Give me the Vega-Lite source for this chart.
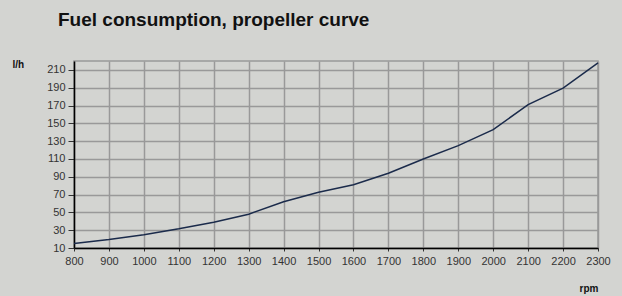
{
  "$schema": "https://vega.github.io/schema/vega-lite/v6.json",
  "autosize": "none",
  "width": 524,
  "height": 187,
  "padding": {"left": 74, "top": 61, "right": 24, "bottom": 48},
  "background": "#d3d4d1",
  "config": {
    "view": {"stroke": "#999999", "strokeWidth": 1.5},
    "font": "Liberation Sans"
  },
  "title": {
    "text": "Fuel consumption, propeller curve",
    "anchor": "start",
    "frame": "group",
    "dx": -16,
    "offset": 29,
    "fontSize": 19,
    "fontWeight": "bold",
    "color": "#111111",
    "font": "Liberation Sans"
  },
  "data": {
    "values": [
      {"rpm": 800, "lh": 15},
      {"rpm": 900, "lh": 19.5},
      {"rpm": 1000, "lh": 25},
      {"rpm": 1100, "lh": 31.5},
      {"rpm": 1200, "lh": 39},
      {"rpm": 1300, "lh": 48},
      {"rpm": 1400, "lh": 62},
      {"rpm": 1500, "lh": 72.5},
      {"rpm": 1600, "lh": 81},
      {"rpm": 1700, "lh": 94},
      {"rpm": 1800, "lh": 110},
      {"rpm": 1900, "lh": 125},
      {"rpm": 2000, "lh": 143},
      {"rpm": 2100, "lh": 171},
      {"rpm": 2200, "lh": 189.5},
      {"rpm": 2300, "lh": 218}
    ]
  },
  "mark": {"type": "line", "color": "#1b2b4b", "strokeWidth": 1.5},
  "encoding": {
    "x": {
      "field": "rpm",
      "type": "quantitative",
      "scale": {"domain": [800, 2300], "nice": false, "zero": false},
      "axis": {
        "values": [800, 900, 1000, 1100, 1200, 1300, 1400, 1500, 1600, 1700, 1800, 1900, 2000, 2100, 2200, 2300],
        "format": "d",
        "labelOverlap": false,
        "labelFlush": false,
        "labelBound": false,
        "title": "rpm",
        "titleFontSize": 10,
        "titleFontWeight": "bold",
        "titleColor": "#111111",
        "titleAlign": "right",
        "titleBaseline": "alphabetic",
        "titleX": 524,
        "titleY": 43,
        "labelFontSize": 11,
        "labelColor": "#333333",
        "labelPadding": 4,
        "tickSize": 3,
        "tickColor": "#333333",
        "domainColor": "#000000",
        "domainWidth": 1.5,
        "gridColor": "#999999",
        "gridWidth": 1.5,
        "gridOpacity": 1
      }
    },
    "y": {
      "field": "lh",
      "type": "quantitative",
      "scale": {"domain": [10, 220], "nice": false, "zero": false},
      "axis": {
        "values": [10, 30, 50, 70, 90, 110, 130, 150, 170, 190, 210],
        "labelOverlap": false,
        "labelFlush": false,
        "title": "l/h",
        "titleAngle": 0,
        "titleFontSize": 10,
        "titleFontWeight": "bold",
        "titleColor": "#111111",
        "titleAlign": "left",
        "titleBaseline": "alphabetic",
        "titleX": -62,
        "titleY": 6,
        "labelFontSize": 11,
        "labelColor": "#333333",
        "labelPadding": 3,
        "tickSize": 6,
        "tickColor": "#333333",
        "domainColor": "#000000",
        "domainWidth": 1.5,
        "gridColor": "#999999",
        "gridWidth": 1.5,
        "gridOpacity": 1
      }
    }
  }
}
